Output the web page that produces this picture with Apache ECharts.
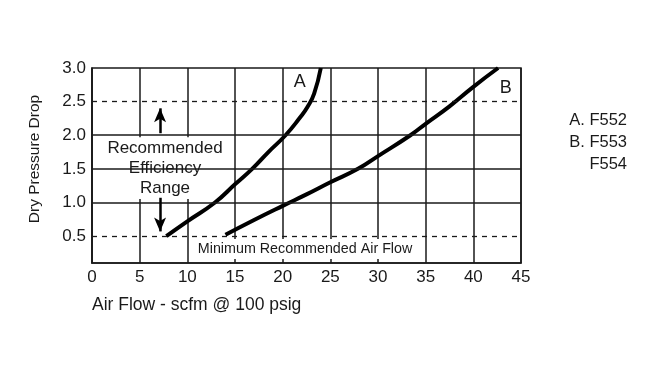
<!DOCTYPE html>
<html>
<head>
<meta charset="utf-8">
<script src="https://cdn.jsdelivr.net/npm/echarts@6/dist/echarts.min.js"></script>
<style>
html,body{margin:0;padding:0;background:#fff;}
#chart{width:650px;height:367px;}
</style>
</head>
<body>
<div id="chart"></div>
<script>
// ---- data ----
const yTickValues = [0.5, 1.0, 1.5, 2.0, 2.5, 3.0];
const solidGridY = [1.0, 1.5, 2.0];
const dashedGridY = [0.5, 2.5];
const curveA = [[7.8,0.5],[10,0.72],[12.9,1.0],[15,1.27],[16.8,1.5],[18.5,1.75],[20.3,2.0],[21.8,2.26],[22.6,2.42],[23.3,2.62],[24.0,3.0]];
const curveB = [[14,0.52],[17,0.74],[20,0.95],[22.5,1.12],[25,1.3],[27.9,1.5],[30,1.69],[33.4,2.0],[35,2.17],[37.5,2.43],[40,2.72],[42.6,3.0]];
const legendLines = ['A. F552', 'B. F553', 'F554'];
const xName = 'Air Flow - scfm @ 100 psig';
const yName = 'Dry Pressure Drop';
const boxText1 = 'Recommended\nEfficiency\nRange';
const boxText2 = 'Minimum Recommended Air Flow';

const FONT = '"Liberation Sans", Arial, sans-serif';
const INK = '#1a1a1a';

const chart = echarts.init(document.getElementById('chart'), null, {renderer:'canvas'});

const option = {
  animation: false,
  backgroundColor: '#fff',
  grid: {left: 92, right: 129, top: 68, bottom: 104, show: true, borderColor: INK, borderWidth: 1.5, backgroundColor: 'transparent'},
  xAxis: {
    type: 'value', min: 0, max: 45, interval: 5,
    axisLine: {show: true, lineStyle: {color: INK, width: 1.5}},
    axisTick: {show: false},
    axisLabel: {color: INK, fontSize: 17, fontFamily: FONT, margin: 6},
    splitLine: {show: true, lineStyle: {color: INK, width: 1.5}}
  },
  yAxis: {
    type: 'value', min: 0.1, max: 3.0,
    axisLine: {show: true, lineStyle: {color: INK, width: 1.5}},
    axisTick: {show: false},
    axisLabel: {color: INK, fontSize: 17, fontFamily: FONT, margin: 6,
      customValues: yTickValues, formatter: v => Number(v).toFixed(1)},
    splitLine: {show: false}
  },
  series: [
    { // horizontal grid lines
      type: 'line', data: [], z: 1, silent: true,
      markLine: {
        silent: true, symbol: 'none', label: {show: false},
        data: solidGridY.map(v => ({yAxis: v, lineStyle: {color: INK, width: 1.5, type: 'solid'}}))
          .concat(dashedGridY.map(v => ({yAxis: v, lineStyle: {color: INK, width: 1.3, type: [5, 5]}})))
      }
    },
    { // white label boxes
      type: 'line', data: [], z: 2, silent: true,
      markArea: {
        silent: true,
        itemStyle: {color: '#fff', opacity: 1},
        data: [
          [{coord: [0.63, 1.97], label: {show: true, position: 'inside', formatter: boxText1, color: INK, fontSize: 17, lineHeight: 20, fontFamily: FONT, offset: [5, 0]}}, {coord: [13.64, 1.05]}],
          [{coord: [10.3, 0.457], label: {show: true, position: 'inside', formatter: boxText2, color: INK, fontSize: 14.3, fontFamily: FONT}}, {coord: [34.4, 0.16]}]
        ]
      }
    },
    {
      name: 'A', type: 'line', data: curveA, smooth: 0.5, showSymbol: false, z: 3,
      lineStyle: {color: '#000', width: 4},
      markPoint: {symbol: 'circle', symbolSize: 0, silent: true,
        label: {show: true, position: 'inside', color: INK, fontSize: 18, fontFamily: FONT, formatter: 'A'},
        data: [{coord: [21.8, 2.79]}]}
    },
    {
      name: 'B', type: 'line', data: curveB, smooth: 0.5, showSymbol: false, z: 3,
      lineStyle: {color: '#000', width: 4},
      markPoint: {symbol: 'circle', symbolSize: 0, silent: true,
        label: {show: true, position: 'inside', color: INK, fontSize: 18, fontFamily: FONT, formatter: 'B'},
        data: [{coord: [43.4, 2.70]}]}
    },
    { // arrows
      type: 'line', data: [], z: 4, silent: true,
      markLine: {
        silent: true, symbol: ['none', 'arrow'], symbolSize: [9, 14], label: {show: false},
        lineStyle: {color: '#000', width: 2.5, type: 'solid'},
        data: [
          [{coord: [7.14, 2.03]}, {coord: [7.14, 2.40]}],
          [{coord: [7.14, 1.07]}, {coord: [7.14, 0.57]}]
        ]
      }
    }
  ],
  graphic: [
    {type: 'text', x: 35, y: 159, rotation: Math.PI / 2, style: {text: yName, fill: INK, font: '15.5px ' + FONT, textAlign: 'center', textVerticalAlign: 'middle'}},
    {type: 'text', x: 92, y: 305, style: {text: xName, fill: INK, font: '17.5px ' + FONT, textAlign: 'left', textVerticalAlign: 'middle'}},
    {type: 'text', x: 627, y: 120, style: {text: legendLines[0], fill: INK, font: '16.5px ' + FONT, textAlign: 'right', textVerticalAlign: 'middle'}},
    {type: 'text', x: 627, y: 142, style: {text: legendLines[1], fill: INK, font: '16.5px ' + FONT, textAlign: 'right', textVerticalAlign: 'middle'}},
    {type: 'text', x: 627, y: 164, style: {text: legendLines[2], fill: INK, font: '16.5px ' + FONT, textAlign: 'right', textVerticalAlign: 'middle'}}
  ]
};
chart.setOption(option);
</script>
</body>
</html>
